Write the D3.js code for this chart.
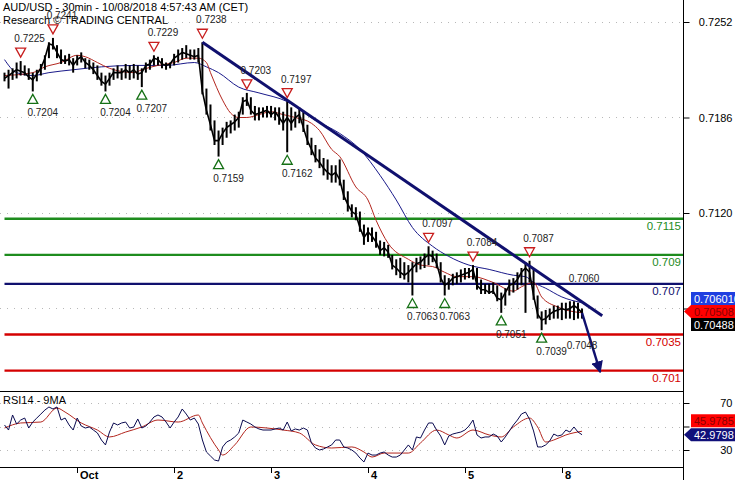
<!DOCTYPE html>
<html><head><meta charset="utf-8">
<script src="https://cdn.jsdelivr.net/npm/d3@7"></script>
<style>
body{margin:0;background:#fff}
svg{display:block}
text{font-family:"Liberation Sans",Arial,sans-serif}
</style>
</head><body>
<svg id="chart" width="735" height="480"></svg>
<script>
// ---------- DATA (hourly bars) ----------
const dayLabels = ["Oct","2","3","4","5","8"];
const dayBars   = [18,42,66,90,114,138];

const highs = [0.7217,0.7219,0.7220,0.7224,0.7225,0.7222,0.7220,0.7217,0.7219,0.7223,0.7229,0.7238,
0.7241,0.7236,0.7233,0.7229,0.7230,0.7227,0.7229,0.7231,0.7227,0.7226,0.7224,0.7222,
0.7217,0.7215,0.7217,0.7220,0.7222,0.7220,0.7223,0.7222,0.7223,0.7222,0.7220,0.7224,
0.7226,0.7229,0.7228,0.7227,0.7224,0.7224,0.7230,0.7233,0.7234,0.7236,0.7233,0.7233,
0.7234,0.7238,0.7206,0.7195,0.7184,0.7177,0.7179,0.7183,0.7184,0.7188,0.7190,0.7200,
0.7203,0.7200,0.7194,0.7193,0.7193,0.7194,0.7194,0.7193,0.7193,0.7190,0.7197,0.7193,
0.7190,0.7193,0.7190,0.7181,0.7172,0.7167,0.7164,0.7158,0.7157,0.7153,0.7153,0.7157,
0.7143,0.7135,0.7126,0.7124,0.7121,0.7112,0.7110,0.7110,0.7107,0.7101,0.7100,0.7098,
0.7091,0.7088,0.7089,0.7086,0.7084,0.7086,0.7089,0.7090,0.7092,0.7097,0.7094,0.7092,
0.7086,0.7077,0.7075,0.7078,0.7079,0.7081,0.7082,0.7082,0.7084,0.7082,0.7074,0.7071,
0.7071,0.7072,0.7070,0.7065,0.7068,0.7074,0.7075,0.7079,0.7082,0.7086,0.7087,0.7081,
0.7063,0.7052,0.7053,0.7054,0.7056,0.7056,0.7058,0.7058,0.7059,0.7059,0.7058,0.7054];

const lows = [0.7211,0.7206,0.7212,0.7213,0.7215,0.7215,0.7212,0.7204,0.7211,0.7215,0.7219,0.7227,
0.7233,0.7227,0.7223,0.7223,0.7222,0.7217,0.7222,0.7224,0.7220,0.7219,0.7216,0.7212,
0.7208,0.7204,0.7208,0.7212,0.7213,0.7212,0.7213,0.7212,0.7213,0.7212,0.7207,0.7217,
0.7219,0.7222,0.7222,0.7220,0.7219,0.7220,0.7222,0.7224,0.7226,0.7227,0.7226,0.7226,
0.7224,0.7202,0.7188,0.7177,0.7167,0.7159,0.7167,0.7172,0.7175,0.7177,0.7179,0.7188,
0.7194,0.7188,0.7184,0.7184,0.7186,0.7186,0.7186,0.7184,0.7181,0.7177,0.7162,0.7177,
0.7179,0.7182,0.7176,0.7167,0.7160,0.7155,0.7151,0.7146,0.7143,0.7141,0.7141,0.7139,
0.7129,0.7121,0.7117,0.7115,0.7107,0.7098,0.7100,0.7100,0.7096,0.7091,0.7090,0.7089,
0.7081,0.7077,0.7075,0.7074,0.7072,0.7063,0.7079,0.7081,0.7082,0.7084,0.7086,0.7082,
0.7072,0.7063,0.7067,0.7070,0.7071,0.7072,0.7074,0.7075,0.7074,0.7067,0.7064,0.7064,
0.7064,0.7064,0.7059,0.7051,0.7056,0.7063,0.7065,0.7067,0.7070,0.7051,0.7072,0.7060,
0.7047,0.7039,0.7043,0.7046,0.7047,0.7047,0.7046,0.7047,0.7047,0.7046,0.7047,0.7047];

const closes = [0.7213,0.7215,0.7217,0.7219,0.7218,0.7217,0.7214,0.7212,0.7216,0.7220,0.7227,0.7237,
0.7236,0.7231,0.7226,0.7225,0.7226,0.7222,0.7226,0.7228,0.7224,0.7222,0.7219,0.7215,
0.7211,0.7209,0.7213,0.7217,0.7217,0.7217,0.7219,0.7217,0.7219,0.7216,0.7217,0.7222,
0.7223,0.7227,0.7226,0.7223,0.7222,0.7223,0.7227,0.7229,0.7231,0.7230,0.7229,0.7228,
0.7229,0.7204,0.7191,0.7181,0.7170,0.7170,0.7175,0.7179,0.7181,0.7183,0.7186,0.7197,
0.7198,0.7191,0.7188,0.7189,0.7190,0.7191,0.7188,0.7190,0.7186,0.7182,0.7186,0.7182,
0.7186,0.7188,0.7179,0.7170,0.7164,0.7158,0.7155,0.7151,0.7148,0.7146,0.7148,0.7143,
0.7132,0.7126,0.7121,0.7119,0.7110,0.7103,0.7107,0.7104,0.7100,0.7094,0.7096,0.7093,
0.7084,0.7082,0.7079,0.7077,0.7079,0.7082,0.7085,0.7086,0.7089,0.7091,0.7090,0.7085,
0.7075,0.7070,0.7072,0.7075,0.7076,0.7077,0.7078,0.7079,0.7081,0.7070,0.7067,0.7067,
0.7065,0.7066,0.7061,0.7060,0.7065,0.7070,0.7071,0.7074,0.7079,0.7082,0.7079,0.7063,
0.7050,0.7046,0.7047,0.7050,0.7052,0.7053,0.7054,0.7053,0.7054,0.7056,0.7054,0.7051];

// moving averages on price: [bar, value]
const maFast = [[0,0.7215],[7,0.7217],[10,0.7221],[14,0.7224],[18,0.7229],[20,0.7228],[23,0.7224],[26,0.7220],
[32,0.7217],[34,0.7219],[38,0.7222],[42,0.7224],[45,0.7227],[48,0.7227],[50,0.7224],[51,0.7217],[54,0.7198],
[56,0.7189],[58,0.7186],[60,0.7186],[63,0.7188],[66,0.7190],[69,0.7188],[72,0.7186],[76,0.7182],[78,0.7177],
[81,0.7164],[83,0.7159],[87,0.7138],[90,0.7129],[92,0.7115],[95,0.7099],[100,0.7088],[103,0.7084],[106,0.7083],
[109,0.7079],[112,0.7076],[116,0.7076],[121,0.7072],[126,0.7066],[128,0.7069],[131,0.7072],[133,0.7062],
[137,0.7055],[143,0.7051]];
const maSlow = [[0,0.7226],[3,0.7217],[7,0.7215],[11,0.7217],[17,0.7219],[24,0.7221],[32,0.7222],[40,0.7222],
[47,0.7224],[50,0.7221],[53,0.7217],[58,0.7207],[63,0.7203],[70,0.7197],[77,0.7184],[83,0.7175],[88,0.7164],
[93,0.7146],[97,0.7129],[101,0.7110],[106,0.7097],[110,0.7090],[115,0.7084],[120,0.7081],[126,0.7077],
[129,0.7076],[131,0.7072],[134,0.7068],[138,0.7062],[143,0.7058]];

const rsi = [51.3,47.0,59.8,52.1,55.5,57.2,48.7,53.8,57.2,60.6,64.0,66.6,
64.9,66.6,55.5,57.2,51.3,47.0,57.2,50.4,48.7,49.6,47.0,44.5,
38.5,34.3,45.3,53.0,51.3,53.0,53.8,48.7,49.6,56.4,48.7,50.4,
53.8,58.1,59.8,58.1,53.8,48.7,53.8,58.1,64.9,60.6,55.5,57.2,
52.1,38.5,28.3,24.9,21.5,20.6,32.6,36.8,38.5,41.1,44.5,55.5,
53.8,52.1,49.6,47.9,47.0,47.0,47.0,47.9,48.7,47.0,53.8,46.2,
47.9,47.0,48.7,47.0,36.0,31.7,30.0,30.9,32.6,34.3,38.5,38.5,
32.6,31.7,30.0,27.4,23.2,19.8,27.4,25.7,25.7,27.4,28.3,25.7,
24.0,24.0,25.7,30.0,34.3,30.0,41.1,40.2,47.0,53.0,53.0,47.0,
41.9,34.3,41.9,43.6,44.5,45.3,47.0,50.4,55.5,42.8,40.2,41.1,
41.1,43.6,41.9,36.8,41.1,46.2,51.3,55.5,60.6,62.3,56.4,46.2,
32.6,32.6,34.3,37.7,43.6,41.9,42.8,47.0,45.3,49.6,45.3,42.98];
const rsiMa = [[0,48.7],[4,53.0],[9,53.8],[13,65.7],[15,62.3],[19,53.0],[23,47.0],[26,41.1],[30,45.3],[34,49.6],
[38,55.5],[43,53.8],[48,59.8],[49,53.0],[53,30.0],[54,25.7],[57,34.3],[61,49.6],[65,48.7],[69,47.0],[73,44.5],
[77,34.3],[81,31.7],[86,32.6],[89,28.3],[91,24.0],[94,27.4],[100,27.4],[103,36.0],[107,47.0],[110,42.8],
[112,40.2],[116,47.0],[120,42.8],[123,41.1],[126,49.6],[130,57.2],[132,49.6],[134,36.8],[136,38.5],[139,42.8],
[143,45.98]];

const levelValues = [0.7115,0.709,0.707,0.7035,0.701];
const levelLabels = ["0.7115","0.709","0.707","0.7035","0.701"];
const levelKinds  = ["res","res","pivot","sup","sup"];

const peakBars = [4,12,37,49,60,70,105,116,130];
const peakVals = [0.7225,0.7241,0.7229,0.7238,0.7203,0.7197,0.7097,0.7084,0.7087];
const troughBars = [7,25,34,53,70,101,109,123,133];
const troughVals = [0.7204,0.7204,0.7207,0.7159,0.7162,0.7063,0.7063,0.7051,0.7039];

const trendLine  = [[49,0.7238],[148,0.7049]];
const projection = [[143,0.7051],[147.5,0.7010]];
const noteTexts = ["0.7060","0.7048"];
const noteBars  = [143,143];
const noteVals  = [0.7060,0.7048];

const priceTicks = [0.7252,0.7186,0.7120,0.7054];
const priceTickLabels = ["0.7252","0.7186","0.7120",""];
const rsiTicks = [70,50,30];
const rsiTickLabels = ["70","","30"];
const lastPrices = [0.706010,0.70508,0.70488];
const lastRsi = [45.9785,42.9798];

// ---------- LAYOUT ----------
const svg = d3.select("#chart");
const AX = 683;
const mainTop = 0, mainBot = 391, rsiTop = 391, rsiBot = 467;
const x = d3.scaleLinear().domain([0,168]).range([4.5, AX]);
const y = d3.scaleLinear().domain([0.7120,0.7252]).range([213,22]);
const yr = d3.scaleLinear().domain([30,70]).range([450,403]);

const COL = {green:"#1e8c1e", red:"#d40000", navy:"#10106e", maRed:"#b3261e", maNavy:"#1a1a8a"};

const defs = svg.append("defs");
defs.append("clipPath").attr("id","cm").append("rect").attr("x",0).attr("y",mainTop).attr("width",AX).attr("height",mainBot-mainTop);
defs.append("clipPath").attr("id","cr").append("rect").attr("x",0).attr("y",rsiTop).attr("width",AX).attr("height",rsiBot-rsiTop);
defs.append("marker").attr("id","arrow").attr("viewBox","0 0 10 10").attr("refX",9).attr("refY",5)
  .attr("markerWidth",5).attr("markerHeight",5).attr("markerUnits","strokeWidth").attr("orient","auto")
  .append("path").attr("d","M0,0 L10,5 L0,10 Z").attr("fill",COL.navy);

// grid (dotted)
svg.append("g").selectAll("line").data(priceTicks).join("line")
  .attr("x1",0).attr("x2",AX).attr("y1",d=>Math.round(y(d))+0.5).attr("y2",d=>Math.round(y(d))+0.5)
  .attr("stroke","#b8b8b8").attr("stroke-dasharray","1,6");
svg.append("g").selectAll("line").data(rsiTicks).join("line")
  .attr("x1",0).attr("x2",AX).attr("y1",d=>Math.round(yr(d))+0.5).attr("y2",d=>Math.round(yr(d))+0.5)
  .attr("stroke","#b8b8b8").attr("stroke-dasharray","1,6");

const gm = svg.append("g").attr("clip-path","url(#cm)");

// level lines
const levelColor = k => k==="res"?COL.green:(k==="sup"?COL.red:COL.navy);
gm.selectAll("line.lvl").data(levelValues).join("line").attr("class","lvl")
  .attr("x1",x(0)).attr("x2",AX).attr("y1",d=>y(d)-1.5).attr("y2",d=>y(d)-1.5)
  .attr("stroke",(d,i)=>levelColor(levelKinds[i])).attr("stroke-width",2.4);
gm.selectAll("text.lvl").data(levelValues).join("text").attr("class","lvl")
  .attr("x",AX-2).attr("y",d=>y(d)+10).attr("text-anchor","end").attr("font-size",11.5)
  .attr("fill",(d,i)=>levelColor(levelKinds[i])).text((d,i)=>levelLabels[i]);

// moving averages
const maLine = d3.line().x(d=>x(d[0])).y(d=>y(d[1])).curve(d3.curveMonotoneX);
gm.append("path").attr("d",maLine(maSlow)).attr("fill","none").attr("stroke",COL.maNavy).attr("stroke-width",1);
gm.append("path").attr("d",maLine(maFast)).attr("fill","none").attr("stroke",COL.maRed).attr("stroke-width",1);

// price bars
const bars = d3.range(closes.length);
gm.append("path").attr("d",d3.line().x(i=>x(i)).y(i=>y(closes[i]))(bars))
  .attr("fill","none").attr("stroke","#000").attr("stroke-width",1.6);
gm.append("g").selectAll("line").data(bars).join("line")
  .attr("x1",i=>x(i)).attr("x2",i=>x(i)).attr("y1",i=>y(highs[i])).attr("y2",i=>y(lows[i]))
  .attr("stroke","#000").attr("stroke-width",2);

// trend line and projection
gm.append("line").attr("x1",x(trendLine[0][0])).attr("y1",y(trendLine[0][1]))
  .attr("x2",x(trendLine[1][0])).attr("y2",y(trendLine[1][1]))
  .attr("stroke",COL.navy).attr("stroke-width",3);
gm.append("line").attr("x1",x(projection[0][0])).attr("y1",y(projection[0][1]))
  .attr("x2",x(projection[1][0])).attr("y2",y(projection[1][1]))
  .attr("stroke",COL.navy).attr("stroke-width",2.4).attr("marker-end","url(#arrow)");

// swing markers
const tri = (cx,cy,down)=> down
  ? `M${cx-5},${cy-4} L${cx+5},${cy-4} L${cx},${cy+5} Z`
  : `M${cx-5},${cy+4} L${cx+5},${cy+4} L${cx},${cy-5} Z`;
peakBars.forEach((b,i)=>{
  const cx = x(b), cy = y(peakVals[i]) - 9;
  gm.append("path").attr("d",tri(cx,cy,true)).attr("fill","#fff").attr("stroke","#c81e1e").attr("stroke-width",1.3);
  gm.append("text").attr("x",cx+9).attr("y",cy-10).attr("text-anchor","middle").attr("font-size",10)
    .attr("fill","#222").text(peakVals[i].toFixed(4));
});
troughBars.forEach((b,i)=>{
  const cx = x(b), cy = y(troughVals[i]) + 8;
  gm.append("path").attr("d",tri(cx,cy,false)).attr("fill","#fff").attr("stroke","#157015").attr("stroke-width",1.3);
  gm.append("text").attr("x",cx+10).attr("y",cy+17).attr("text-anchor","middle").attr("font-size",10)
    .attr("fill","#222").text(troughVals[i].toFixed(4));
});
gm.append("text").attr("x",x(noteBars[0])+2).attr("y",y(levelValues[2])-3).attr("text-anchor","middle")
  .attr("font-size",10).attr("fill","#222").text(noteTexts[0]);
gm.append("text").attr("x",x(noteBars[1])).attr("y",y(noteVals[1])+32).attr("text-anchor","middle")
  .attr("font-size",10).attr("fill","#222").text(noteTexts[1]);

// header
svg.append("text").attr("x",3).attr("y",11).attr("font-size",11).attr("fill","#000")
  .text("AUD/USD - 30min - 10/08/2018 4:57:43 AM (CET)");
svg.append("text").attr("x",3).attr("y",24).attr("font-size",11).attr("fill","#000")
  .text("Research © TRADING CENTRAL");

// RSI panel
const gr = svg.append("g").attr("clip-path","url(#cr)");
const rl = d3.line().x((d,i)=>x(i)).y(d=>yr(d));
gr.append("path").attr("d",d3.line().x(d=>x(d[0])).y(d=>yr(d[1])).curve(d3.curveMonotoneX)(rsiMa))
  .attr("fill","none").attr("stroke",COL.maRed).attr("stroke-width",1);
gr.append("path").attr("d",rl(rsi)).attr("fill","none").attr("stroke","#0a0a50").attr("stroke-width",1);
svg.append("text").attr("x",3).attr("y",404).attr("font-size",11).attr("fill","#000").text("RSI14 - 9MA");

// panel borders
svg.append("line").attr("x1",0).attr("x2",AX).attr("y1",mainBot+0.5).attr("y2",mainBot+0.5).attr("stroke","#000");
svg.append("line").attr("x1",0).attr("x2",AX).attr("y1",rsiBot+0.5).attr("y2",rsiBot+0.5).attr("stroke","#000");
svg.append("line").attr("x1",AX+0.5).attr("x2",AX+0.5).attr("y1",0).attr("y2",480).attr("stroke","#000");

// right axes
const ap = d3.axisRight(y).tickValues(priceTicks).tickFormat((d,i)=>priceTickLabels[i]).tickSize(6).tickPadding(3);
const gap = svg.append("g").attr("transform",`translate(${AX+0.5},0)`).call(ap);
const ar = d3.axisRight(yr).tickValues(rsiTicks).tickFormat((d,i)=>rsiTickLabels[i]).tickSize(6).tickPadding(3);
const gar = svg.append("g").attr("transform",`translate(${AX+0.5},0)`).call(ar);
[gap,gar].forEach(g=>{
  g.select(".domain").remove();
  g.selectAll(".tick line").attr("stroke","#000");
  g.selectAll(".tick text").attr("x",49).attr("text-anchor","end").attr("font-size",11)
    .attr("font-family","Liberation Sans, Arial, sans-serif").attr("fill","#000");
});

// bottom axis (day ticks)
const gx = svg.append("g");
gx.selectAll("line").data(dayBars).join("line")
  .attr("x1",d=>Math.round(x(d))+0.5).attr("x2",d=>Math.round(x(d))+0.5).attr("y1",rsiBot).attr("y2",rsiBot+6)
  .attr("stroke","#000");
gx.selectAll("text").data(dayBars).join("text")
  .attr("x",d=>Math.round(x(d))+3).attr("y",478.5).attr("font-size",11).attr("font-weight","bold")
  .attr("fill","#000").text((d,i)=>dayLabels[i]);

// last-value tags
function tag(cy, label, fill, tcol, arrow){
  const h = 13, x0 = 691;
  const d = arrow
    ? `M${AX+1},${cy} L${x0},${cy-h/2} L735,${cy-h/2} L735,${cy+h/2} L${x0},${cy+h/2} Z`
    : `M${x0},${cy-h/2} L735,${cy-h/2} L735,${cy+h/2} L${x0},${cy+h/2} Z`;
  svg.append("path").attr("d",d).attr("fill",fill);
  svg.append("text").attr("x",x0+3).attr("y",cy+4.5).attr("font-size",11).attr("fill",tcol).text(label);
}
const bidY = Math.round(y(lastPrices[1]))-1.5;
tag(bidY-13, lastPrices[0].toFixed(6), "#1f3fe0", "#fff", false);
tag(bidY, lastPrices[1].toFixed(5), "#ff0000", "#8a0000", true);
tag(bidY+13, lastPrices[2].toFixed(5), "#000", "#fff", false);
const rY = yr(lastRsi[1]);
tag(rY-14, lastRsi[0].toFixed(4), "#ff0000", "#8a0000", false);
tag(rY, lastRsi[1].toFixed(4), "#10107a", "#fff", true);
</script>
</body></html>
